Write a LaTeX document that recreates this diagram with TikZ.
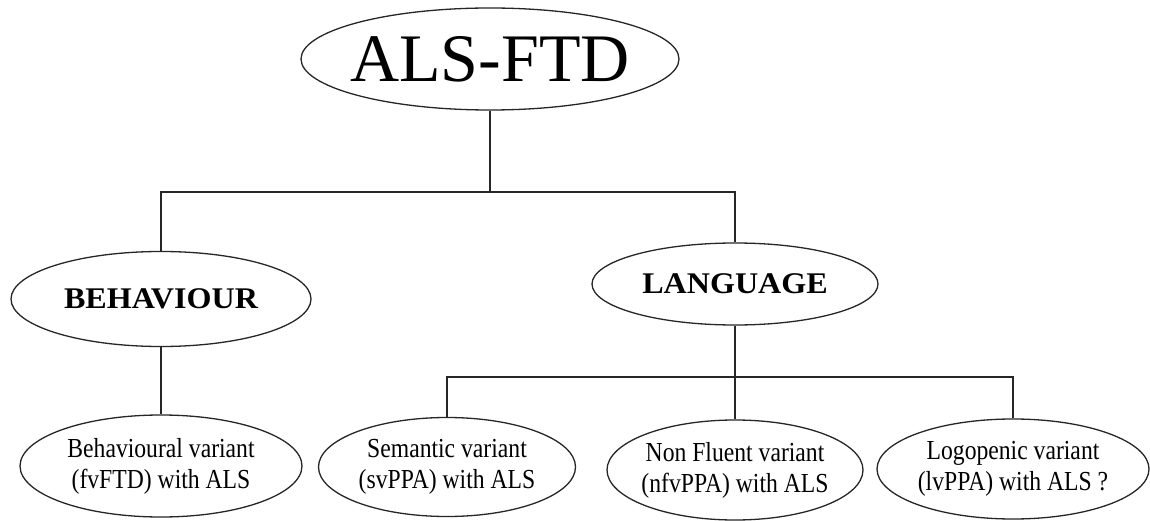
\documentclass[tikz,border=0pt]{standalone}
\usepackage{fontspec}
\setmainfont{Liberation Serif}
\newfontfamily\condfont[FakeStretch=0.86]{Liberation Serif}
\newfontfamily\wideboldfont[FakeStretch=1.07]{Liberation Serif Bold}
\usetikzlibrary{shapes.geometric}
\tikzset{
  oval/.style={draw=black!85, line width=1.3pt, ellipse, inner sep=0pt},
  conn/.style={draw=black!85, line width=1.4pt},
  bigtxt/.style={font=\fontsize{68}{72}\selectfont},
  midtxt/.style={font=\wideboldfont\fontsize{30}{34}\selectfont},
  smalltxt/.style={font=\condfont\fontsize{27.5}{31}\selectfont, align=center}
}
\begin{document}
\begin{tikzpicture}[x=1pt,y=-1pt]
\useasboundingbox[fill=white] (0,0) rectangle (1150,521);
% top
\node[oval, minimum width=378pt, minimum height=102pt,
  label={[bigtxt, name=ttop]center:ALS-FTD}] (top) at (490,59) {};
% second level
\node[oval, minimum width=300pt, minimum height=95pt,
  label={[midtxt, name=tbeh]center:BEHAVIOUR}] (beh) at (161,299) {};
\node[oval, minimum width=286pt, minimum height=82pt,
  label={[midtxt, name=tlang]center:LANGUAGE}] (lang) at (735,284) {};
% third level
\node[oval, minimum width=282pt, minimum height=102pt,
  label={[smalltxt, name=tbehv]center:Behavioural variant\\(fvFTD) with ALS}] (behv) at (161,466) {};
\node[oval, minimum width=257pt, minimum height=99pt,
  label={[smalltxt, name=tsem]center:Semantic variant\\(svPPA) with ALS}] (sem) at (447,467) {};
\node[oval, minimum width=256pt, minimum height=100pt,
  label={[smalltxt, name=tnf]center:Non Fluent variant\\(nfvPPA) with ALS}] (nf) at (735,470) {};
\node[oval, minimum width=272pt, minimum height=100pt,
  label={[smalltxt, name=tlog]center:Logopenic variant\\(lvPPA) with ALS ?}] (log) at (1013,469) {};
% bus coordinates
\coordinate (b1) at (490,192);
\coordinate (b2) at (735,377);
% connectors
\draw[conn] (top.south) -- (b1);
\draw[conn] (beh.north) |- (b1) -| (lang.north);
\draw[conn] (beh.south) -- (behv.north);
\draw[conn] (lang.south) -- (b2);
\draw[conn] (sem.north) |- (b2) -| (log.north);
\draw[conn] (b2) -- (nf.north);
\end{tikzpicture}
\end{document}
